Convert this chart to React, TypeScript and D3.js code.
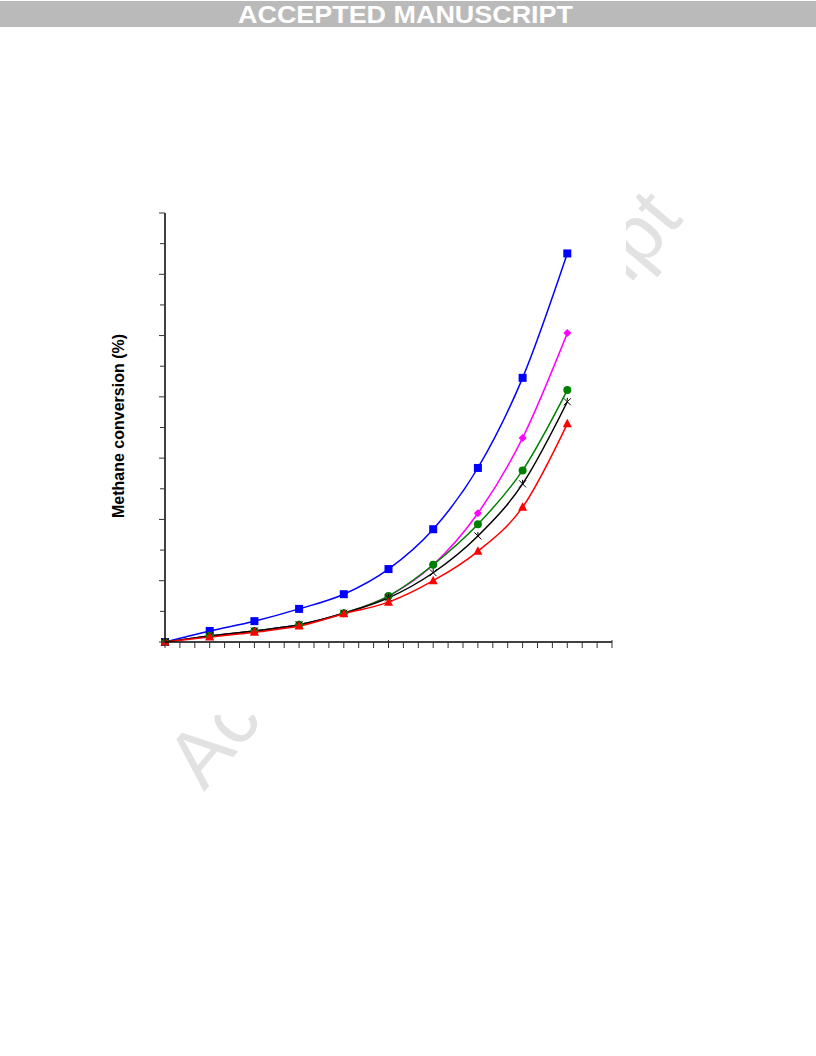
import React from "react";
import * as d3 from "d3";

const xValues = [0, 1, 2, 3, 4, 5, 6, 7, 8, 9];
const seriesBlue = [0, 1.8, 3.4, 5.4, 7.8, 11.9, 18.4, 28.4, 43.1, 63.4];
const seriesMagenta = [0, 1.0, 1.8, 2.8, 4.7, 7.5, 12.6, 21.0, 33.3, 50.4];
const seriesGreen = [0, 1.0, 1.8, 2.8, 4.7, 7.5, 12.6, 19.2, 28.0, 41.1];
const seriesBlack = [0, 1.0, 1.8, 2.8, 4.7, 7.2, 11.3, 17.3, 25.8, 39.2];
const seriesRed = [0, 0.8, 1.6, 2.6, 4.6, 6.5, 10.0, 14.8, 22.0, 35.6];

const yLabel = "Methane conversion (%)";
const headerText = "ACCEPTED MANUSCRIPT";
const watermarkText = "Accepted Manuscript";

const W = 816;
const H = 1056;

const x = d3.scaleLinear().domain([0, 10]).range([165, 612]);
const y = d3.scaleLinear().domain([0, 70]).range([642, 213]);

type Marker = "square" | "diamond" | "circle" | "star" | "triangle";

const series: { name: string; values: number[]; color: string; marker: Marker }[] = [
  { name: "blue", values: seriesBlue, color: "#0000ff", marker: "square" },
  { name: "magenta", values: seriesMagenta, color: "#ff00ff", marker: "diamond" },
  { name: "green", values: seriesGreen, color: "#008000", marker: "circle" },
  { name: "black", values: seriesBlack, color: "#000000", marker: "star" },
  { name: "red", values: seriesRed, color: "#ff0000", marker: "triangle" },
];

function markerEl(m: Marker, cx: number, cy: number, color: string, key: string) {
  if (m === "square") return <rect key={key} x={cx - 4} y={cy - 4} width={8} height={8} fill={color} />;
  if (m === "circle") return <circle key={key} cx={cx} cy={cy} r={4} fill={color} />;
  if (m === "diamond")
    return <path key={key} d={`M${cx},${cy - 4}L${cx + 4},${cy}L${cx},${cy + 4}L${cx - 4},${cy}Z`} fill={color} />;
  if (m === "triangle")
    return <path key={key} d={`M${cx},${cy - 5}L${cx + 4.5},${cy + 3.5}L${cx - 4.5},${cy + 3.5}Z`} fill={color} />;
  return (
    <path
      key={key}
      d={`M${cx - 3.5},${cy - 3.5}L${cx + 3.5},${cy + 3.5}M${cx - 3.5},${cy + 3.5}L${cx + 3.5},${cy - 3.5}M${cx},${cy - 4}L${cx},${cy - 1}`}
      stroke={color}
      strokeWidth={1}
      fill="none"
    />
  );
}

export default function App() {
  const line = d3
    .line<number>()
    .x((_, i) => x(xValues[i]))
    .y((d) => y(d))
    .curve(d3.curveCardinal.tension(0));

  const xTicks = d3.range(0, 31).map((i) => i / 3);
  const yTicks = d3.range(0, 71, 5);

  return (
    <svg
      width={W}
      height={H}
      style={{ position: "absolute", left: 0, top: 0, background: "#fff" }}
      fontFamily="'Liberation Sans', Arial, sans-serif"
    >
      <rect x={0} y={0} width={W} height={H} fill="#fff" />
      {/* watermark */}
      <text
        x={0}
        y={0}
        transform="translate(204,792) rotate(-50)"
        fontSize={80}
        fill="#e2e2e2"
      >
        {watermarkText}
      </text>
      {/* chart image background covering watermark */}
      <rect x={95} y={150} width={531} height={565} fill="#fff" />
      {/* header band */}
      <rect x={0} y={1} width={W} height={26} fill="#bababa" />
      <text
        x={238}
        y={23}
        fontSize={24}
        fontWeight="bold"
        fill="#fff"
        textLength={335}
        lengthAdjust="spacingAndGlyphs"
      >
        {headerText}
      </text>

      {/* lines */}
      {series.map((s) => (
        <path key={s.name} d={line(s.values) || ""} fill="none" stroke={s.color} strokeWidth={1.5} />
      ))}
      {series.map((s) => (
        <g key={s.name + "m"}>
          {s.values.map((v, i) => markerEl(s.marker, x(xValues[i]), y(v), s.color, s.name + i))}
        </g>
      ))}

      {/* axes */}
      <line x1={165} y1={y(70)} x2={165} y2={y(0)} stroke="#000" strokeWidth={1.5} />
      <line x1={165} y1={y(0)} x2={612} y2={y(0)} stroke="#000" strokeWidth={1.5} />
      {yTicks.map((t) => (
        <line
          key={"yt" + t}
          x1={t % 10 === 0 ? 159 : 160}
          x2={165}
          y1={y(t)}
          y2={y(t)}
          stroke="#333"
          strokeWidth={1}
        />
      ))}
      {xTicks.map((t, i) => (
        <line
          key={"xt" + i}
          x1={x(t)}
          x2={x(t)}
          y1={i % 15 === 0 ? y(0) - 2 : y(0)}
          y2={y(0) + 6}
          stroke="#333"
          strokeWidth={1}
        />
      ))}

      {/* y label */}
      <text
        transform={`translate(124,${426}) rotate(-90)`}
        textAnchor="middle"
        fontSize={16}
        fontWeight="bold"
        fill="#000"
      >
        {yLabel}
      </text>
    </svg>
  );
}
